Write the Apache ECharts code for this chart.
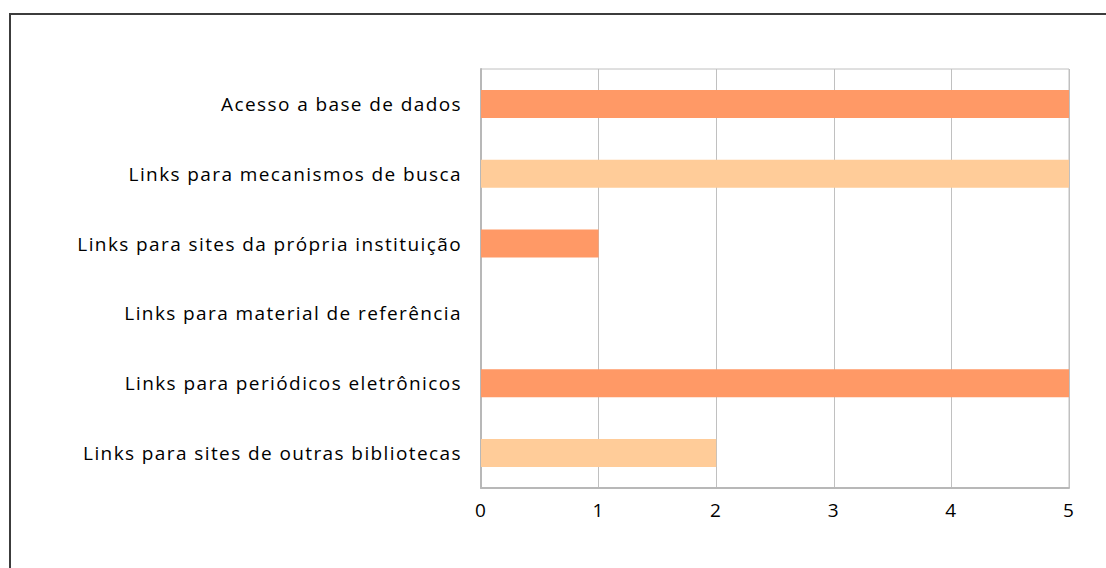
<!DOCTYPE html>
<html>
<head>
<meta charset="utf-8">
<script src="https://cdn.jsdelivr.net/npm/echarts@6/dist/echarts.min.js"></script>
<style>
  html, body { margin: 0; padding: 0; background: #fff; }
  #frame { position: absolute; left: 9px; top: 13px; width: 1200px; height: 700px; border: 2px solid #3c3c3c; }
  #chart { position: absolute; left: 0; top: 0; width: 1106px; height: 568px; }
  #chart svg text { letter-spacing: 1.4px; }
</style>
</head>
<body>
<div id="frame"></div>
<div id="chart"></div>
<script>
// categories from bottom to top (ECharts draws the first one at the bottom)
var categories = [
    'Links para sites de outras bibliotecas',
    'Links para periódicos eletrônicos',
    'Links para material de referência',
    'Links para sites da própria instituição',
    'Links para mecanismos de busca',
    'Acesso a base de dados'
]
var values = [2, 5, 0, 1, 5, 5]
var barColors = ['#FFCC99', '#FF9966']
var xTicks = [0, 1, 2, 3, 4, 5]

// svg renderer so the css letter-spacing above reaches the labels
var chart = echarts.init(document.getElementById('chart'), null, {renderer: 'svg'})
var fontFamily = 'Open Sans'

var option = {
    animation: false,
    grid: {
        left: 481,
        right: 37,
        top: 69,
        bottom: 80,
        show: true,
        borderColor: '#c0c0c0',
        borderWidth: 1
    },
    xAxis: {
        type: 'value',
        min: xTicks[0],
        max: xTicks[xTicks.length - 1],
        interval: 1,
        axisLine: { show: true, lineStyle: { color: '#b8b8b8', width: 2 } },
        axisTick: { show: false },
        splitLine: { show: true, lineStyle: { color: '#c0c0c0', width: 1 } },
        axisLabel: {
            color: '#000',
            fontFamily: fontFamily,
            fontSize: 19,
            margin: 12
        }
    },
    yAxis: {
        type: 'category',
        data: categories,
        axisLine: { show: true, lineStyle: { color: '#b8b8b8', width: 2 } },
        axisTick: { show: false },
        axisLabel: {
            color: '#000',
            fontFamily: fontFamily,
            fontSize: 19,
            margin: 19,
            padding: [0, 0, 3, 0]
        }
    },
    series: [{
        type: 'bar',
        barCategoryGap: '60%',
        data: values.map(function (v, i) {
            return { value: v, itemStyle: { color: barColors[i % 2] } }
        })
    }]
}
chart.setOption(option)
</script>
</body>
</html>
